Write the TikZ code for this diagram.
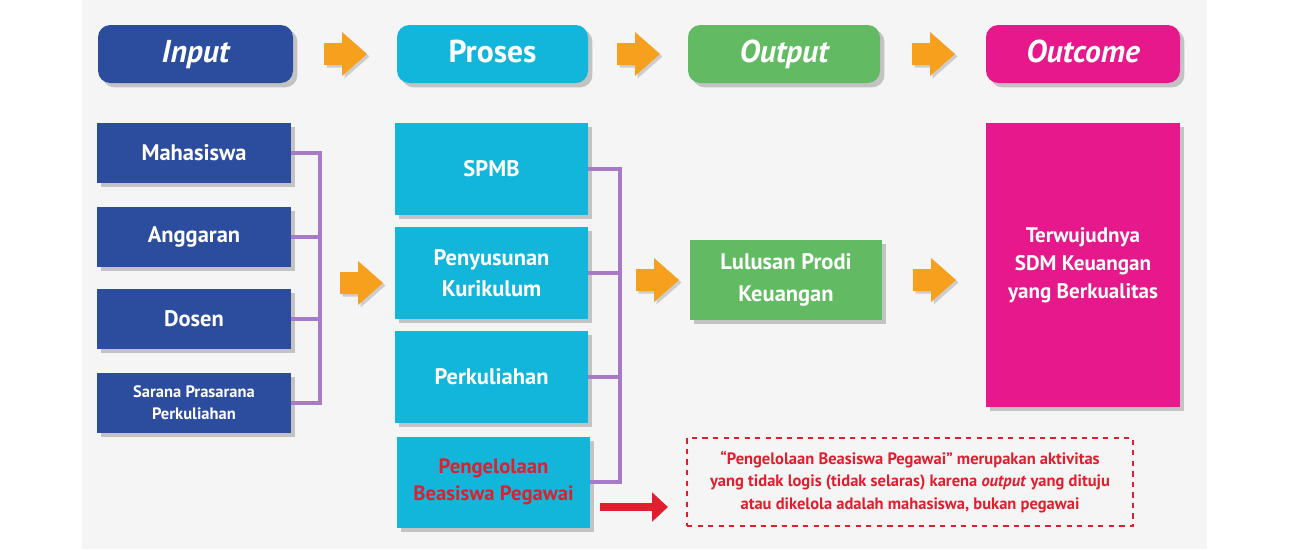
\documentclass[tikz,border=0pt]{standalone}
\usepackage{fontspec}
\setmainfont{PT Sans}
\usetikzlibrary{calc,shadows,arrows.meta}
\definecolor{cblue}{RGB}{44,76,158}
\definecolor{ccyan}{RGB}{18,182,218}
\definecolor{cgreen}{RGB}{98,187,99}
\definecolor{cmag}{RGB}{230,24,139}
\definecolor{corange}{RGB}{246,160,30}
\definecolor{cpurp}{RGB}{166,122,196}
\definecolor{cred}{RGB}{225,30,45}
\definecolor{cbg}{RGB}{245,245,246}
\tikzset{
  shad/.style={drop shadow={shadow xshift=2.5pt,shadow yshift=-2.5pt,opacity=0.35,fill=black!60}},
  hdr/.style={rounded corners=7pt,shad,text=white,minimum width=#1*0.02cm,minimum height=58*0.02cm,inner sep=0pt,text height=12.5pt,text depth=3pt,font=\fontsize{18}{20}\selectfont\bfseries},
  box/.style={shad,text=white,inner sep=0pt,align=center,font=\fontsize{12.8}{17.8}\selectfont\bfseries},
  bus/.style={draw=cpurp,line width=2.3pt},
  pics/barrow/.style={code={
    \fill[black!35,opacity=0.5,shift={(2.5,2.5)}] (-21,-11) -- (-3,-11) -- (-3,-22) -- (22,0) -- (-3,22) -- (-3,11) -- (-21,11) -- cycle;
    \fill[corange] (-21,-11) -- (-3,-11) -- (-3,-22) -- (22,0) -- (-3,22) -- (-3,11) -- (-21,11) -- cycle;
  }},
}
\begin{document}
\begin{tikzpicture}[x=0.02cm,y=-0.02cm]
\useasboundingbox (0,0) rectangle (1290,549);
\fill[white] (0,0) rectangle (1290,549);
\fill[cbg] (82,0) rectangle (1207,549);
% headers
\node[hdr=195,fill=cblue] (hin) at (195.5,54) {\itshape Input};
\node[hdr=191,fill=ccyan] (hpr) at (492.5,54) {Proses};
\node[hdr=192,fill=cgreen] (hout) at (784,54) {\itshape Output};
\node[hdr=194,fill=cmag] (hoc) at (1083,54) {\itshape Outcome};
\pic at ($(hin.east)!0.5!(hpr.west)$) {barrow};
\pic at ($(hpr.east)!0.5!(hout.west)$) {barrow};
\pic at ($(hout.east)!0.5!(hoc.west)$) {barrow};
% input column
\node[box,fill=cblue,minimum width=194*0.02cm,minimum height=60*0.02cm] (mah) at (194,153) {Mahasiswa};
\node[box,fill=cblue,minimum width=194*0.02cm,minimum height=60*0.02cm] (ang) at (194,237) {Anggaran};
\node[box,fill=cblue,minimum width=194*0.02cm,minimum height=60*0.02cm] (dos) at (194,319) {Dosen};
\node[box,fill=cblue,minimum width=194*0.02cm,minimum height=60*0.02cm,font=\fontsize{9.4}{12.5}\selectfont\bfseries] (sar) at (194,403) {Sarana Prasarana\\Perkuliahan};
% process column
\node[box,fill=ccyan,minimum width=193*0.02cm,minimum height=92*0.02cm] (spmb) at (491.5,169) {SPMB};
\node[box,fill=ccyan,minimum width=193*0.02cm,minimum height=92*0.02cm] (pen) at (491.5,273) {Penyusunan\\Kurikulum};
\node[box,fill=ccyan,minimum width=193*0.02cm,minimum height=92*0.02cm] (perk) at (491.5,377) {Perkuliahan};
\node[box,fill=ccyan,minimum width=193*0.02cm,minimum height=91*0.02cm,text=cred,font=\fontsize{11.8}{15.5}\selectfont\bfseries] (peng) at (493.5,482) {Pengelolaan\\Beasiswa Pegawai};
% output / outcome
\node[box,fill=cgreen,minimum width=192*0.02cm,minimum height=80*0.02cm] (lul) at (786,280) {Lulusan Prodi\\Keuangan};
\node[box,fill=cmag,minimum width=194*0.02cm,minimum height=284*0.02cm,font=\fontsize{12}{16}\selectfont\bfseries] (sdm) at (1083,265) {Terwujudnya\\SDM Keuangan\\yang Berkualitas};
% buses
\coordinate (busA) at (320,0);
\coordinate (busB) at (620,0);
\draw[bus] (mah.east) -| (busA |- sar.east) -- (sar.east);
\draw[bus] (ang.east) -- (ang.east -| busA);
\draw[bus] (dos.east) -- (dos.east -| busA);
\draw[bus] (spmb.east) -| (busB |- peng.east) -- (peng.east);
\draw[bus] (pen.east) -- (pen.east -| busB);
\draw[bus] (perk.east) -- (perk.east -| busB);
% middle arrows
\pic at (361,283) {barrow};
\pic at (657,280) {barrow};
\pic at (934,280) {barrow};
% note
\node[draw=cred,dashed,line width=0.8pt,minimum width=446*0.02cm,minimum height=88*0.02cm,text=cred,align=center,inner sep=0pt,font=\fontsize{9.4}{12.6}\selectfont\bfseries] (note) at (910,482) {``Pengelolaan Beasiswa Pegawai'' merupakan aktivitas\\yang tidak logis (tidak selaras) karena \textit{output} yang dituju\\atau dikelola adalah mahasiswa, bukan pegawai};
\coordinate (rs) at (600,507);
\coordinate (re) at (668,507);
\draw[cred,line width=5pt,-{Triangle[width=16pt,length=9pt]}] (rs) -- (re);
\end{tikzpicture}
\end{document}
